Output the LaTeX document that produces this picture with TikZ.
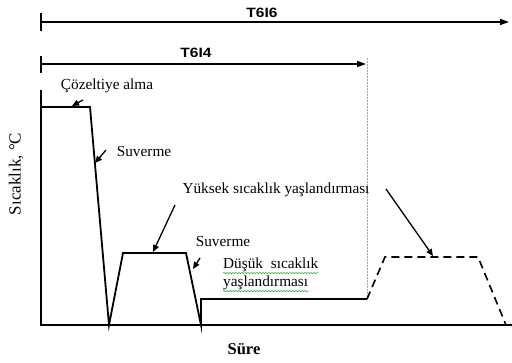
\documentclass[tikz,border=0pt]{standalone}
\usepackage{fontspec}
\setmainfont{Liberation Serif}
\newfontfamily\arialfont{Liberation Sans}
\usetikzlibrary{arrows.meta,decorations.pathmorphing}
\begin{document}
\begin{tikzpicture}[x=1pt,y=-1pt,
  prof/.style={line width=1.8pt, line join=miter},
  axisline/.style={line width=1.8pt},
  ptr/.style={line width=1.3pt,-{Triangle[length=7pt,width=6pt]}},
  spanline/.style={line width=1.5pt,-{Triangle[length=9pt,width=6pt]}},
  lbl/.style={font=\fontsize{15.3}{17}\selectfont, inner sep=0pt},
  hdr/.style={font=\arialfont\bfseries\fontsize{13.5}{15}\selectfont, inner sep=0pt},
  wavy/.style={draw=green!60!black, line width=0.4pt, decorate,
    decoration={snake, amplitude=0.7pt, segment length=3pt}},
]
\useasboundingbox (0,0) rectangle (512,363);

% span arrows
\coordinate (t6a) at (41,22);
\coordinate (t6b) at (509,22);
\coordinate (t4a) at (41,64);
\coordinate (t4b) at (366,64);
\draw[line width=1.5pt] (41,13) -- (41,31);
\draw[line width=1.5pt] (41,56) -- (41,73);
\draw[spanline] (t6a) -- (t6b);
\draw[spanline] (t4a) -- (t4b);
\node[hdr] (T6) at (262,12.5) {\scalebox{1.15}[1]{T6I6}};
\node[hdr] (T4) at (196,52.5) {\scalebox{1.15}[1]{T6I4}};

% dotted guide
\draw[gray!70, line width=0.5pt, densely dotted] (367,58) -- (367,299);

% axes
\coordinate (o) at (41,325);
\draw[axisline] (41,90) -- (o) -- (512,325);

% profile
\coordinate (p0) at (41,107);
\coordinate (p1) at (90,107);
\coordinate (p2) at (109,325);
\coordinate (p3) at (123,253);
\coordinate (p4) at (186,253);
\coordinate (p5) at (201,325);
\coordinate (p6) at (201,299);
\coordinate (p7) at (367,299);
\coordinate (p8) at (385,257);
\coordinate (p9) at (478,257);
\coordinate (p10) at (506,325);
\draw[prof] (p0) -- (p1) -- (p2) -- (p3) -- (p4) -- (p5) -- (p6) -- (p7);
\draw[prof, line width=1.6pt, dash pattern=on 8pt off 5pt] (p7) -- (p8) -- (p9) -- (p10);

% labels
\node[lbl] (coz) at (107,86) {Çözeltiye alma};
\node[lbl] (suv1) at (144,152) {Suverme};
\node[lbl] (yuk) at (276,190) {Yüksek sıcaklık yaşlandırması};
\node[lbl] (suv2) at (223,242) {Suverme};
\node[lbl, anchor=west] (dus1) at (223,265) {Düşük\ \ sıcaklık};
\node[lbl, anchor=west] (dus2) at (223,283) {yaşlandırması};
\node[font=\fontsize{17}{18}\selectfont, rotate=90, inner sep=0pt] (ylab) at (16,174) {Sıcaklık, °C};
\node[font=\bfseries\fontsize{16.5}{18}\selectfont, inner sep=0pt] (xlab) at (244,349) {Süre};

% spell-check underlines
\draw[wavy] ([yshift=-1pt]dus1.south west) -- ([yshift=-1pt]dus1.south east);
\draw[wavy] ([yshift=-1pt]dus2.south west) -- ([yshift=-1pt]dus2.south east);

% pointers
\coordinate (a0) at (83,100);
\coordinate (a0e) at (72,106);
\coordinate (a1) at (106,150);
\coordinate (a1e) at (95,163);
\coordinate (a2) at (175,205);
\coordinate (a2e) at (153,252);
\coordinate (a3) at (386,189);
\coordinate (a3e) at (433,256);
\coordinate (a4) at (200,258);
\coordinate (a4e) at (193,269);
\draw[ptr] (a0) -- (a0e);
\draw[ptr] (a1) -- (a1e);
\draw[ptr] (a2) -- (a2e);
\draw[ptr] (a3) -- (a3e);
\draw[ptr] (a4) -- (a4e);
\end{tikzpicture}
\end{document}
